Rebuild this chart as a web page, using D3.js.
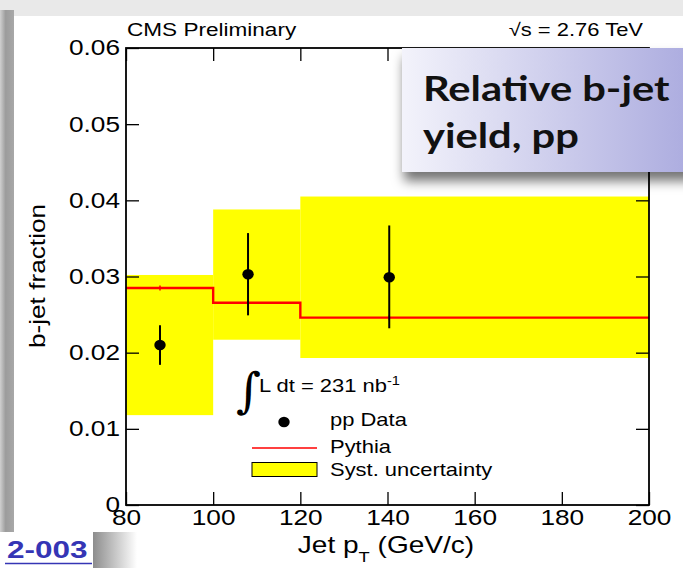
<!DOCTYPE html>
<html>
<head>
<meta charset="utf-8">
<script src="https://cdn.jsdelivr.net/npm/d3@7"></script>
<style>
  body { margin: 0; background: #fff; }
  svg { display: block; font-family: "Liberation Sans", Arial, sans-serif; }
</style>
</head>
<body>
<svg id="chart" width="683" height="568"></svg>
<script>
// Data
const binEdges = [80, 100, 120, 200];
const systLow = [0.0118, 0.0217, 0.0193];
const systHigh = [0.0302, 0.0388, 0.0405];
const pythia = [0.0285, 0.02655, 0.0246];
const dataX = [87.8, 108.0, 140.4];
const dataY = [0.0210, 0.0303, 0.0299];
const errLow = [0.0184, 0.0249, 0.0232];
const errHigh = [0.0236, 0.0357, 0.0367];
const xTicks = [80, 100, 120, 140, 160, 180, 200];
const yTicks = [0, 0.01, 0.02, 0.03, 0.04, 0.05, 0.06];

const svg = d3.select('#chart');
const W = 683, H = 568;
const SX = 1.22; // the screenshot's text is wide, stretch along the string
const x = d3.scaleLinear().domain([80, 200]).range([126, 649]);
const y = d3.scaleLinear().domain([0, 0.06]).range([505, 48]);

// text helper: placed at (px,py), stretched horizontally
function label(px, py, size, str, opts) {
  opts = opts || {};
  const t = svg.append('text')
    .attr('transform', `translate(${px},${py})` + (opts.rot ? ` rotate(${opts.rot})` : '') + ` scale(${opts.sx || SX},1)`)
    .attr('font-size', size)
    .attr('text-anchor', opts.anchor || 'start');
  if (str) t.text(str);
  return t;
}

const defs = svg.append('defs');
const lg = defs.append('linearGradient').attr('id', 'leftbar').attr('x1', 0).attr('x2', 1);
lg.append('stop').attr('offset', 0).attr('stop-color', '#d0d0d0');
lg.append('stop').attr('offset', 0.4).attr('stop-color', '#9c9c9c');
lg.append('stop').attr('offset', 1).attr('stop-color', '#a8a8a8');
const bg = defs.append('linearGradient').attr('id', 'boxgrad').attr('x1', 0).attr('x2', 1);
bg.append('stop').attr('offset', 0).attr('stop-color', '#f3f3fb');
bg.append('stop').attr('offset', 1).attr('stop-color', '#a9a9de');
const sg = defs.append('linearGradient').attr('id', 'shgrad').attr('x1', 0).attr('x2', 1);
sg.append('stop').attr('offset', 0).attr('stop-color', '#8a8a8a');
sg.append('stop').attr('offset', 1).attr('stop-color', '#ffffff');
const f = defs.append('filter').attr('id', 'shadow').attr('x', '-20%').attr('y', '-20%').attr('width', '150%').attr('height', '160%');
f.append('feDropShadow').attr('dx', 2).attr('dy', 9).attr('stdDeviation', 6)
  .attr('flood-color', '#000').attr('flood-opacity', 0.55);

// slide background bits
svg.append('rect').attr('width', W).attr('height', H).attr('fill', '#fff');
svg.append('rect').attr('width', W).attr('height', 16).attr('fill', '#e9e9e9');
svg.append('rect').attr('x', 0).attr('y', 10).attr('width', 14).attr('height', 525).attr('fill', 'url(#leftbar)');

// systematic boxes
const bins = d3.range(systLow.length);
svg.append('g').selectAll('rect').data(bins).join('rect')
  .attr('x', i => x(binEdges[i]))
  .attr('width', i => x(binEdges[i + 1]) - x(binEdges[i]))
  .attr('y', i => y(systHigh[i]))
  .attr('height', i => y(systLow[i]) - y(systHigh[i]))
  .attr('fill', '#ffff00');

// pythia step line
const steps = [];
bins.forEach(i => { steps.push([binEdges[i], pythia[i]]); steps.push([binEdges[i + 1], pythia[i]]); });
svg.append('path')
  .attr('d', d3.line().x(d => x(d[0])).y(d => y(d[1]))(steps))
  .attr('fill', 'none').attr('stroke', '#ff0000').attr('stroke-width', 2.4);
svg.append('g').selectAll('line').data(bins).join('line')
  .attr('x1', i => x(dataX[i])).attr('x2', i => x(dataX[i]))
  .attr('y1', i => y(pythia[i]) - 2.5).attr('y2', i => y(pythia[i]) + 2.5)
  .attr('stroke', '#ff0000').attr('stroke-width', 1.5);

// data points
svg.append('g').selectAll('line').data(bins).join('line')
  .attr('x1', i => x(dataX[i])).attr('x2', i => x(dataX[i]))
  .attr('y1', i => y(errHigh[i])).attr('y2', i => y(errLow[i]))
  .attr('stroke', '#000').attr('stroke-width', 2);
svg.append('g').selectAll('ellipse').data(bins).join('ellipse')
  .attr('cx', i => x(dataX[i])).attr('cy', i => y(dataY[i])).attr('rx', 5.7).attr('ry', 5.2)
  .attr('fill', '#000');

// axes, ROOT style ticks pointing inward
const minorX = d3.range(80, 201, 5);
const minorY = d3.range(0, 0.0601, 0.005);
function ax(gen, tr, dim, labels) {
  const sc = dim === 'x' ? x : y;
  const g = svg.append('g').attr('transform', tr);
  g.call(gen(sc).tickValues(dim === 'x' ? minorX : minorY).tickSizeInner(-6.5).tickSizeOuter(0).tickFormat(''));
  g.call(gen(sc).tickValues(dim === 'x' ? xTicks : yTicks).tickSizeInner(-13).tickSizeOuter(0)
    .tickFormat(labels ? (dim === 'x' ? d3.format('d') : (d => d === 0 ? '0' : d3.format('.2f')(d))) : ''));
  g.selectAll('.domain').remove();
  g.selectAll('line').attr('stroke', '#000').attr('stroke-width', 1.3);
  return g;
}
const gx = ax(d3.axisBottom, 'translate(0,505)', 'x', true);
gx.selectAll('text').attr('font-size', 21.5).attr('fill', '#000').attr('dy', '0.71em').attr('y', 5)
  .attr('transform', `scale(${SX},1)`);
ax(d3.axisTop, 'translate(0,48)', 'x', false);
const gy = ax(d3.axisLeft, 'translate(126,0)', 'y', true);
gy.selectAll('text').attr('font-size', 21.5).attr('fill', '#000').attr('x', -6 / SX)
  .attr('transform', `scale(${SX},1)`);
ax(d3.axisRight, 'translate(649,0)', 'y', false);
svg.append('rect').attr('x', 126).attr('y', 48).attr('width', 523).attr('height', 457)
  .attr('fill', 'none').attr('stroke', '#000').attr('stroke-width', 1.8);

// axis titles
label(45, 276, 21.5, 'b-jet fraction', { rot: -90, anchor: 'middle' });
const xt = label(386, 553, 23, null, { anchor: 'middle' });
xt.append('tspan').text('Jet p');
xt.append('tspan').attr('font-size', 15).attr('dy', 9).text('T');
xt.append('tspan').attr('dy', -9).text(' (GeV/c)');

label(127, 36, 18.5, 'CMS Preliminary');
label(643, 36, 18, '\u221As = 2.76 TeV', { anchor: 'end' });

// legend
const lx = 252;
svg.append('text').attr('x', 236).attr('y', 407).attr('font-size', 48).attr('font-family', 'DejaVu Serif')
  .attr('font-style', 'italic').text('\u222B');
const lt = label(259, 392, 18, null);
lt.append('tspan').text('L dt = 231 nb');
lt.append('tspan').attr('font-size', 12).attr('dy', -7).text('-1');
svg.append('ellipse').attr('cx', 284).attr('cy', 422).attr('rx', 5.7).attr('ry', 5.2).attr('fill', '#000');
label(330, 426, 18, 'pp Data');
svg.append('line').attr('x1', lx).attr('x2', 317).attr('y1', 448).attr('y2', 448).attr('stroke', '#ff0000').attr('stroke-width', 1.5);
label(330, 453, 18, 'Pythia');
svg.append('rect').attr('x', lx).attr('y', 462.5).attr('width', 65).attr('height', 14)
  .attr('fill', '#ffff00').attr('stroke', '#000').attr('stroke-width', 1);
label(330, 476, 18, 'Syst. uncertainty');

// slide overlay box
svg.append('rect').attr('x', 402).attr('y', 48).attr('width', 300).attr('height', 124)
  .attr('fill', 'url(#boxgrad)').attr('filter', 'url(#shadow)');
label(423, 101, 35, 'Relative b-jet', { sx: 1.19 })
  .attr('font-weight', 'bold').attr('font-family', 'Lato, "Open Sans", sans-serif').attr('fill', '#111');
label(423, 148, 35, 'yield, pp', { sx: 1.19 })
  .attr('font-weight', 'bold').attr('font-family', 'Lato, "Open Sans", sans-serif').attr('fill', '#111');

// bottom-left link snippet
svg.append('rect').attr('x', 92).attr('y', 532).attr('width', 45).attr('height', 36).attr('fill', 'url(#shgrad)');
svg.append('rect').attr('x', 0).attr('y', 532).attr('width', 93).attr('height', 36).attr('fill', '#fff');
label(7, 558, 23, '2-003', { sx: 1.37 }).attr('font-weight', 'bold').attr('fill', '#3535b5');
svg.append('line').attr('x1', 5).attr('x2', 92).attr('y1', 563.5).attr('y2', 563.5).attr('stroke', '#3535b5').attr('stroke-width', 1.5);
</script>
</body>
</html>
